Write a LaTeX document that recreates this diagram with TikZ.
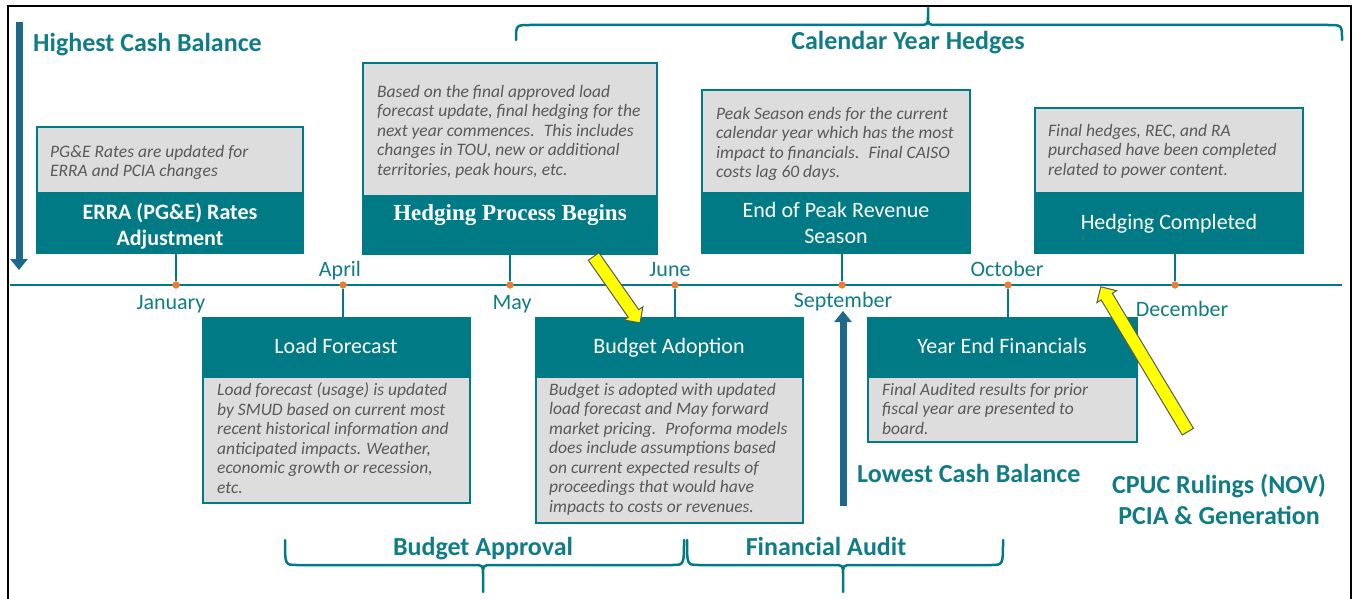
\documentclass[tikz,border=0pt]{standalone}
\usepackage{fontspec}
\setmainfont{Carlito}
\newfontfamily\timesf{Liberation Serif}
\usetikzlibrary{arrows.meta,shapes.arrows}
\definecolor{tealbox}{RGB}{0,122,132}
\definecolor{tealtxt}{RGB}{16,124,134}
\definecolor{greyfill}{RGB}{221,221,221}
\definecolor{greytxt}{RGB}{89,89,89}
\definecolor{arrowblue}{RGB}{30,104,138}
\definecolor{dotorange}{RGB}{237,125,49}
\definecolor{yel}{RGB}{255,255,0}
\newcommand\headfnt{\fontsize{26}{31}\selectfont\bfseries}
\newcommand\descfnt{\fontsize{17.5}{19.5}\selectfont\itshape}
\newcommand\ttlfnt{\fontsize{22}{26}\selectfont}
\newcommand\monfnt{\fontsize{22}{26}\selectfont}
\begin{document}
\begin{tikzpicture}[x=1pt,y=-1pt,
  tealrect/.style={fill=tealbox, draw=tealbox, line width=2pt, anchor=north west, inner sep=0, outer sep=0},
  greyrect/.style={fill=greyfill, draw=tealbox, line width=2.5pt, anchor=north west, inner sep=0, outer sep=0},
  desc/.style={font=\descfnt, text=greytxt, align=left, anchor=north west, inner sep=0},
  ttl/.style={font=\ttlfnt, text=white, align=center, inner sep=0},
  head/.style={font=\headfnt, text=tealtxt, inner sep=0, anchor=base},
  month/.style={font=\monfnt, text=tealtxt, inner sep=0, anchor=base},
  evdot/.style={circle, fill=dotorange, inner sep=0, minimum size=7pt},
  conn/.style={draw=tealbox, line width=2.5pt},
  brace/.style={draw=tealbox, line width=2.5pt, line cap=round, line join=round},
  bigarrow/.style={draw=arrowblue, line width=7pt, -{Triangle[width=17pt,length=11pt]}},
  yarrow/.style={single arrow, fill=yel, draw=black!65, line width=1pt, inner sep=6pt, minimum width=22pt, single arrow head extend=5pt, single arrow head indent=0pt}
]
\useasboundingbox (0,0) rectangle (1356,599);
\fill[white] (0,0) rectangle (1356,599);
% frame
\draw[black, line width=2pt] (8,599) -- (8,6) -- (1351,6) -- (1351,599);

% timeline
\coordinate (tlL) at (10,285);
\coordinate (tlR) at (1342,285);
\draw[conn] (tlL) -- (tlR);

% event dots
\node[evdot] (jan) at (176,285) {};
\node[evdot] (apr) at (343,285) {};
\node[evdot] (may) at (510,285) {};
\node[evdot] (jun) at (675,285) {};
\node[evdot] (sep) at (842,285) {};
\node[evdot] (oct) at (1008,285) {};
\node[evdot] (dec) at (1175,285) {};

% upper boxes
\node[greyrect, minimum width=266, minimum height=66] (erraG) at (37,127) {};
\node[tealrect, minimum width=266, minimum height=60] (erraT) at (37,193) {};
\node[greyrect, minimum width=294, minimum height=133] (hedgeG) at (363,63) {};
\node[tealrect, minimum width=294, minimum height=58] (hedgeT) at (363,196) {};
\node[greyrect, minimum width=268, minimum height=103] (peakG) at (702,90) {};
\node[tealrect, minimum width=268, minimum height=60] (peakT) at (702,193) {};
\node[greyrect, minimum width=268, minimum height=85] (complG) at (1035,108) {};
\node[tealrect, minimum width=268, minimum height=60] (complT) at (1035,193) {};
% lower boxes
\node[tealrect, minimum width=267, minimum height=59] (loadT) at (203,318) {};
\node[greyrect, minimum width=267, minimum height=126] (loadG) at (203,377) {};
\node[tealrect, minimum width=267, minimum height=59] (budT) at (536,318) {};
\node[greyrect, minimum width=267, minimum height=146] (budG) at (536,377) {};
\node[tealrect, minimum width=269, minimum height=59] (yearT) at (868,318) {};
\node[greyrect, minimum width=269, minimum height=65] (yearG) at (868,377) {};

% connectors
\draw[conn] (erraT.south -| jan) -- (jan);
\draw[conn] (hedgeT.south -| may) -- (may);
\draw[conn] (peakT.south -| sep) -- (sep);
\draw[conn] (complT.south -| dec) -- (dec);
\draw[conn] (apr) -- (loadT.north -| apr);
\draw[conn] (jun) -- (budT.north -| jun);
\draw[conn] (oct) -- (yearT.north -| oct);
\node[evdot] at (jan) {};
\node[evdot] at (apr) {};
\node[evdot] at (may) {};
\node[evdot] at (jun) {};
\node[evdot] at (sep) {};
\node[evdot] at (oct) {};
\node[evdot] at (dec) {};

% titles
\node[ttl, font=\ttlfnt\bfseries] (erraTitle) at (170,226) {ERRA (PG\&E) Rates\\Adjustment};
\node[ttl, anchor=base, font=\fontsize{23}{27}\selectfont\timesf\bfseries] (hedgeTitle) at (510,220) {Hedging Process Begins};
\node[ttl] (peakTitle) at (836,223) {End of Peak Revenue\\Season};
\node[ttl, anchor=base] (complTitle) at (1169,229) {Hedging Completed};
\node[ttl, anchor=base] (loadTitle) at (336,353) {Load Forecast};
\node[ttl, anchor=base] (budTitle) at (669,353) {Budget Adoption};
\node[ttl, anchor=base] (yearTitle) at (1002,353) {Year End Financials};

% descriptions
\node[desc] (erraD) at (50,145) {PG\&E Rates are updated for\\ERRA and PCIA changes};
\node[desc] (hedgeD) at (377,85) {Based on the final approved load\\forecast update, final hedging for the\\next year commences.~ This includes\\changes in TOU, new or additional\\territories, peak hours, etc.};
\node[desc] (peakD) at (716,107) {Peak Season ends for the current\\calendar year which has the most\\impact to financials.~ Final CAISO\\costs lag 60 days.};
\node[desc] (complD) at (1048,124) {Final hedges, REC, and RA\\purchased have been completed\\related to power content.};
\node[desc] (loadD) at (217,383) {Load forecast (usage) is updated\\by SMUD based on current most\\recent historical information and\\anticipated impacts. Weather,\\economic growth or recession,\\etc.};
\node[desc] (budD) at (549,383) {Budget is adopted with updated\\load forecast and May forward\\market pricing.~ Proforma models\\does include assumptions based\\on current expected results of\\proceedings that would have\\impacts to costs or revenues.};
\node[desc] (yearD) at (882,383) {Final Audited results for prior\\fiscal year are presented to\\board.};

% months
\node[month] (janL) at (171,309) {January};
\node[month] (aprL) at (340,276) {April};
\node[month] (mayL) at (512,309) {May};
\node[month] (junL) at (670,276) {June};
\node[month] (sepL) at (843,307) {September};
\node[month] (octL) at (1007,276) {October};
\node[month] (decL) at (1182,316) {December};

% headlines
\node[head, anchor=base west] (hiCash) at (33,52) {Highest Cash Balance};
\node[head] (cyh) at (908,50) {Calendar Year Hedges};
\node[head, anchor=base west] (loCash) at (857,482) {Lowest Cash Balance};
\node[head] (cpuc1) at (1219,493) {CPUC Rulings (NOV)};
\node[head] (cpuc2) at (1219,524) {PCIA \& Generation};
\node[head] (bapp) at (483,555) {Budget Approval};
\node[head] (faud) at (826,555) {Financial Audit};

% cash arrows
\coordinate (hiTop) at (19,22);
\coordinate (hiBot) at (19,270);
\draw[bigarrow] (hiTop) -- (hiBot);
\coordinate (loBot) at (843,506);
\coordinate (loTop) at (843,311);
\draw[bigarrow] (loBot) -- (loTop);

% yellow arrows
\node[yarrow, minimum height=81pt, rotate=-55] (ya1) at (615,287) {};
\node[yarrow, minimum height=169pt, rotate=121] (ya2) at (1146,362) {};

% braces
\draw[brace] (516,40) .. controls (516,25) .. (530,25) -- (918,25) .. controls (928,25) .. (928,15) -- (928,8) -- (928,15) .. controls (928,25) .. (938,25) -- (1328,25) .. controls (1342,25) .. (1342,40);
\draw[brace] (285,540) .. controls (285,565) .. (297,565) -- (473,565) .. controls (483,565) .. (483,575) -- (483,592) -- (483,575) .. controls (483,565) .. (493,565) -- (672,565) .. controls (684,565) .. (684,540);
\draw[brace] (687,540) .. controls (687,565) .. (699,565) -- (833,565) .. controls (843,565) .. (843,575) -- (843,592) -- (843,575) .. controls (843,565) .. (853,565) -- (991,565) .. controls (1003,565) .. (1003,540);
\end{tikzpicture}
\end{document}
